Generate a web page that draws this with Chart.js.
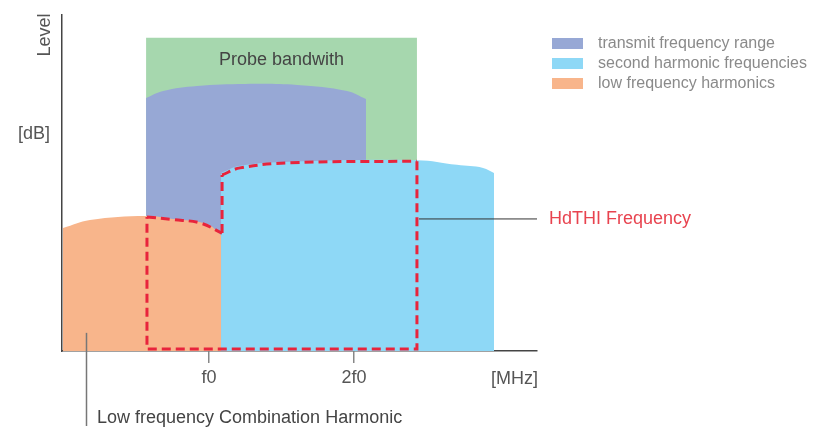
<!DOCTYPE html>
<html>
<head>
<meta charset="utf-8">
<script src="https://cdn.jsdelivr.net/npm/chart.js@4/dist/chart.umd.min.js"></script>
<style>
  html, body { margin: 0; padding: 0; background: #ffffff; }
  #wrap { width: 814px; height: 430px; position: relative; }
</style>
</head>
<body>
<div id="wrap"><canvas id="c" width="814" height="430"></canvas></div>
<script>
// ---- data (x in units of f0, y in relative level 0..100) ----
const xTickValues = [1, 2];
const xTickLabels = ['f0', '2f0'];

const probeX = [0.566, 2.434];
const probeY = [93.2, 93.2];

const transmitX = [0.566, 0.683, 0.917, 1.248, 1.607, 1.952, 2.083];
const transmitY = [75.3, 77.4, 78.9, 79.5, 79.2, 77.4, 75.0];

const secondX = [1.083, 1.214, 1.559, 2.434, 2.710, 2.890, 2.966];
const secondY = [53.0, 55.1, 56.3, 56.8, 55.4, 54.5, 53.0];

const lowX = [-0.007, 0.179, 0.566, 0.752, 0.986, 1.083];
const lowY = [36.6, 39.0, 40.2, 39.3, 37.8, 34.5];

// HdTHI (red dashed) outline pieces
const hdCurveLowX = [0.572, 0.752, 0.938, 1.090];
const hdCurveLowY = [39.9, 39.1, 38.1, 35.1];
const hdRiseX = [1.090, 1.090];
const hdRiseY = [35.1, 52.4];
const hdCurveHighX = [1.090, 1.214, 1.559, 2.434];
const hdCurveHighY = [52.4, 54.5, 56.0, 56.5];
const hdBoxX = [2.434, 2.434, 0.572, 0.572];
const hdBoxY = [56.5, 0.6, 0.6, 39.9];

const legendLabels = ['transmit frequency range', 'second harmonic frequencies', 'low frequency harmonics'];

// ---- styles ----
const COL_PROBE = '#a6d7ae';
const COL_TRANSMIT = '#97a8d5';
const COL_SECOND = '#8ed8f6';
const COL_LOW = '#f8b58b';
const COL_RED = '#e8243c';
const legendColors = [COL_TRANSMIT, COL_SECOND, COL_LOW];
const FONT = '"Liberation Sans", Arial, Helvetica, sans-serif';

const pts = (xs, ys) => xs.map((x, i) => ({ x: x, y: ys[i] }));

function area(xs, ys, color, order, smooth) {
  return {
    data: pts(xs, ys), order: order,
    backgroundColor: color, borderColor: color, borderWidth: 0,
    fill: 'origin', pointRadius: 0,
    tension: smooth ? 0.4 : 0
  };
}
function redLine(xs, ys, smooth) {
  return {
    data: pts(xs, ys), order: 0,
    borderColor: COL_RED, borderWidth: 3, borderDash: [9, 5],
    backgroundColor: 'transparent', fill: false, pointRadius: 0,
    tension: smooth ? 0.4 : 0,
    borderCapStyle: 'butt'
  };
}

const annotations = {
  id: 'annotations',
  afterDraw(chart) {
    const ctx = chart.ctx;
    const xs = chart.scales.x, ys = chart.scales.y;
    ctx.save();
    // Level (rotated)
    ctx.fillStyle = '#555';
    ctx.font = '18px ' + FONT;
    ctx.textBaseline = 'middle';
    ctx.save();
    ctx.translate(45, 35);
    ctx.rotate(-Math.PI / 2);
    ctx.textAlign = 'center';
    ctx.fillText('Level', 0, 0);
    ctx.restore();
    // [dB]
    ctx.textAlign = 'left';
    ctx.fillText('[dB]', 18, 134);
    // [MHz]
    ctx.textAlign = 'right';
    ctx.fillText('[MHz]', 538, 379);
    // Probe bandwith
    ctx.fillStyle = '#444';
    ctx.textAlign = 'center';
    ctx.fillText('Probe bandwith', (xs.getPixelForValue(probeX[0]) + xs.getPixelForValue(probeX[1])) / 2, 60);

    // HdTHI leader
    const hy = ys.getPixelForValue(39.3);
    ctx.strokeStyle = '#333';
    ctx.lineWidth = 1;
    ctx.beginPath();
    ctx.moveTo(xs.getPixelForValue(hdBoxX[0]) + 2, hy);
    ctx.lineTo(chart.chartArea.right, hy);
    ctx.stroke();
    ctx.fillStyle = '#e8434f';
    ctx.textAlign = 'left';
    ctx.fillText('HdTHI Frequency', 549, hy);

    // Low frequency leader
    const lx = Math.round(xs.getPixelForValue(0.152)) + 0.5;
    ctx.strokeStyle = '#777';
    ctx.lineWidth = 1.5;
    ctx.beginPath();
    ctx.moveTo(lx, ys.getPixelForValue(5.4));
    ctx.lineTo(lx, 426);
    ctx.stroke();
    ctx.fillStyle = '#444';
    ctx.fillText('Low frequency Combination Harmonic', 97, 418);

    // Legend
    ctx.font = '16px ' + FONT;
    legendLabels.forEach((lab, i) => {
      const top = 38 + i * 20;
      ctx.fillStyle = legendColors[i];
      ctx.fillRect(552, top, 31, 11);
      ctx.fillStyle = '#8a8a8a';
      ctx.fillText(lab, 598, top + 6);
    });
    ctx.restore();
  }
};

new Chart(document.getElementById('c'), {
  type: 'line',
  data: {
    datasets: [
      redLine(hdCurveLowX, hdCurveLowY, true),
      redLine(hdRiseX, hdRiseY, false),
      redLine(hdCurveHighX, hdCurveHighY, true),
      redLine(hdBoxX, hdBoxY, false),
      area(lowX, lowY, COL_LOW, 1, true),
      area(secondX, secondY, COL_SECOND, 2, true),
      area(transmitX, transmitY, COL_TRANSMIT, 3, true),
      area(probeX, probeY, COL_PROBE, 4, false)
    ]
  },
  options: {
    responsive: false,
    animation: false,
    devicePixelRatio: 1,
    layout: { padding: { top: 15, right: 277, left: 0, bottom: 0 } },
    plugins: { legend: { display: false }, tooltip: { enabled: false } },
    scales: {
      x: {
        type: 'linear', min: -0.014, max: 3.262,
        afterFit(scale) { scale.height = 79; },
        afterBuildTicks(scale) { scale.ticks = xTickValues.map(v => ({ value: v })); },
        ticks: {
          callback: (v, i) => xTickLabels[i],
          color: '#555', font: { family: FONT, size: 18 }, padding: 4,
          maxRotation: 0, autoSkip: false
        },
        grid: { display: true, drawOnChartArea: false, drawTicks: true, tickLength: 12, color: '#888', lineWidth: 1.5 },
        border: { display: true, color: '#444', width: 1.5 }
      },
      y: {
        type: 'linear', min: 0, max: 100,
        afterFit(scale) { scale.width = 62; },
        ticks: { display: false },
        grid: { display: true, drawOnChartArea: false, drawTicks: false },
        border: { display: true, color: '#444', width: 1.5 }
      }
    }
  },
  plugins: [annotations]
});
</script>
</body>
</html>
